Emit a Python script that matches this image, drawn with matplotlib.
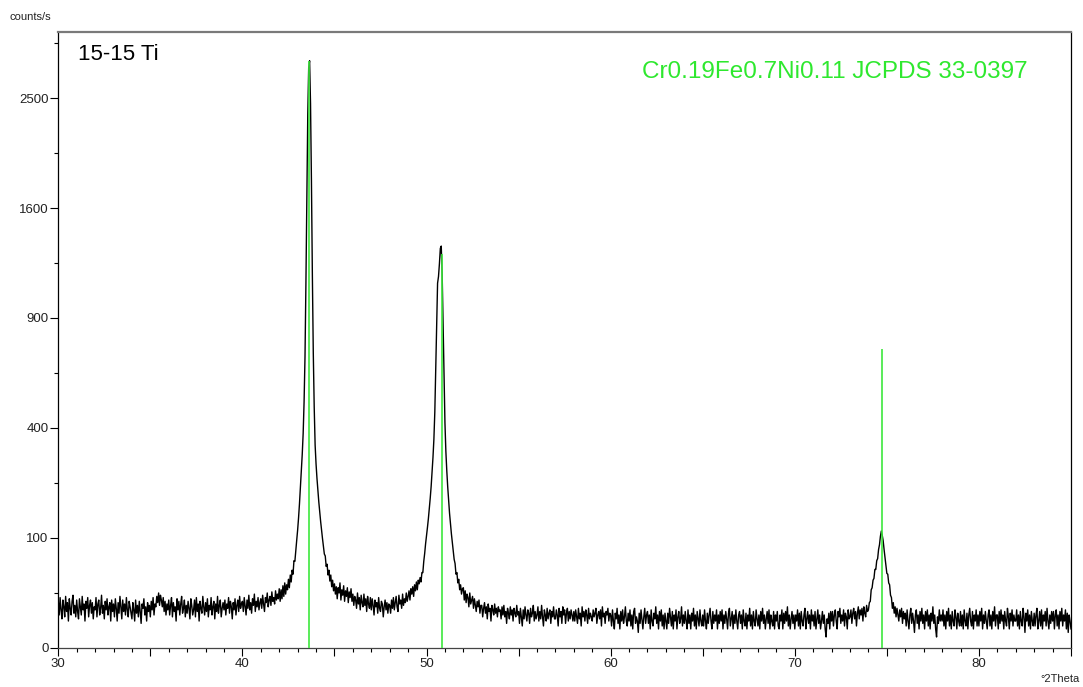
import numpy as np
import matplotlib
matplotlib.use("Agg")
import matplotlib.pyplot as plt
from matplotlib.ticker import FixedLocator, MultipleLocator, FuncFormatter

plt.rcParams['font.family'] = ['Liberation Sans', 'DejaVu Sans']

# scan: 30-85 deg 2theta, step 0.05, one row of counts per degree
scan_start = 30.0
scan_step = 0.05
counts_by_degree = [
    [18, 9, 21, 12, 7, 19, 14, 8, 22, 11, 17, 6, 20, 13, 9, 18, 23, 10, 15, 8],  # 30
    [19, 11, 7, 20, 14, 9, 22, 12, 16, 6, 18, 13, 21, 8, 15, 19, 10, 17, 7, 14],  # 31
    [12, 21, 8, 16, 19, 9, 13, 23, 10, 15, 7, 18, 12, 20, 9, 14, 17, 6, 19, 11],  # 32
    [16, 8, 20, 13, 6, 17, 10, 22, 14, 7, 19, 11, 16, 9, 21, 12, 8, 18, 14, 10],  # 33
    [7, 17, 12, 6, 19, 10, 15, 8, 18, 11, 5, 16, 13, 20, 9, 14, 6, 17, 11, 15],  # 34
    [8, 18, 12, 21, 9, 16, 14, 22, 17, 25, 15, 23, 19, 14, 21, 11, 18, 9, 16, 12],  # 35
    [19, 9, 15, 21, 8, 17, 11, 14, 6, 20, 12, 18, 9, 16, 22, 10, 13, 19, 8, 15],  # 36
    [10, 18, 13, 7, 20, 15, 9, 12, 19, 8, 21, 11, 16, 6, 18, 13, 10, 22, 14, 9],  # 37
    [17, 11, 20, 8, 15, 12, 21, 9, 14, 18, 7, 16, 11, 22, 10, 15, 19, 8, 13, 17],  # 38
    [12, 19, 9, 16, 13, 21, 10, 18, 14, 7, 17, 12, 20, 9, 15, 19, 11, 22, 13, 16],  # 39
    [18, 11, 21, 14, 9, 19, 13, 23, 12, 17, 10, 20, 15, 24, 11, 18, 14, 21, 12, 17],  # 40
    [20, 13, 23, 16, 11, 21, 17, 25, 14, 19, 22, 15, 26, 18, 21, 16, 27, 19, 24, 20],  # 41
    [29, 18, 28, 20, 32, 22, 35, 24, 33, 28, 39, 30, 44, 36, 50, 45, 63, 62, 79, 96],  # 42
    [115, 140, 172, 212, 255, 310, 380, 500, 700, 1100, 1700, 2350, 2780, 2850, 2450,
     1800, 1150, 720, 480, 340],  # 43  (111)
    [280, 238, 205, 176, 152, 132, 114, 99, 86, 73, 70, 55, 58, 44, 50, 37, 44, 31, 38, 27],  # 44
    [34, 24, 31, 20, 30, 25, 35, 19, 28, 23, 32, 18, 27, 22, 30, 17, 26, 21, 29, 18],  # 45
    [24, 15, 22, 19, 13, 25, 16, 21, 12, 23, 17, 14, 24, 15, 20, 11, 22, 16, 13, 21],  # 46
    [12, 20, 15, 9, 19, 14, 17, 10, 21, 13, 11, 18, 16, 8, 14, 19, 12, 17, 10, 16],  # 47
    [15, 10, 19, 13, 21, 12, 17, 22, 14, 11, 23, 16, 19, 13, 24, 15, 20, 17, 25, 18],  # 48
    [22, 27, 19, 29, 24, 31, 22, 33, 27, 36, 28, 38, 34, 41, 36, 47, 47, 62, 74, 90],  # 49
    [104, 120, 138, 160, 185, 215, 255, 300, 360, 460, 640, 850, 1100, 1140, 1220,
     1320, 1335, 1150, 870, 610],  # 50  (200)
    [420, 320, 260, 215, 180, 150, 128, 108, 92, 78, 65, 59, 45, 47, 35, 39, 28, 33, 24, 29],  # 51
    [30, 19, 27, 17, 24, 21, 14, 25, 16, 19, 22, 13, 20, 15, 11, 18, 14, 19, 10, 15],  # 52
    [15, 8, 13, 17, 10, 14, 7, 16, 11, 13, 6, 15, 12, 9, 16, 10, 13, 8, 14, 11],  # 53
    [12, 7, 14, 9, 15, 8, 11, 5, 13, 10, 7, 14, 9, 12, 6, 13, 10, 8, 15, 9],  # 54
    [11, 5, 13, 8, 4, 12, 7, 14, 9, 6, 12, 10, 5, 13, 8, 10, 15, 6, 11, 7],  # 55
    [9, 14, 6, 11, 7, 15, 8, 4, 12, 9, 6, 13, 7, 10, 12, 5, 11, 8, 14, 7],  # 56
    [7, 12, 9, 4, 13, 8, 11, 5, 14, 9, 12, 5, 10, 13, 6, 11, 7, 12, 9, 6],  # 57
    [11, 6, 12, 8, 5, 13, 7, 10, 4, 14, 8, 11, 6, 12, 9, 5, 13, 7, 10, 8],  # 58
    [6, 12, 8, 10, 13, 5, 9, 11, 7, 12, 4, 14, 8, 10, 5, 11, 9, 13, 6, 10],  # 59
    [9, 4, 12, 6, 3, 10, 7, 13, 5, 9, 3, 11, 6, 12, 5, 8, 14, 6, 4, 10],  # 60
    [6, 12, 4, 9, 3, 11, 13, 5, 8, 6, 2, 10, 5, 12, 7, 3, 8, 13, 5, 9],  # 61
    [11, 5, 9, 3, 12, 6, 4, 10, 7, 14, 5, 9, 3, 11, 6, 12, 4, 9, 3, 10],  # 62
    [6, 3, 10, 5, 13, 8, 4, 11, 3, 9, 6, 12, 3, 8, 11, 5, 7, 14, 4, 9],  # 63
    [5, 11, 6, 3, 12, 5, 9, 3, 10, 6, 13, 4, 9, 3, 11, 7, 4, 12, 6, 4],  # 64
    [9, 4, 12, 6, 3, 10, 5, 9, 13, 6, 3, 11, 5, 9, 6, 12, 3, 9, 5, 11],  # 65
    [6, 12, 3, 9, 5, 11, 7, 3, 10, 13, 4, 7, 11, 3, 9, 5, 12, 6, 3, 9],  # 66
    [11, 5, 9, 3, 12, 6, 4, 10, 3, 9, 6, 13, 4, 9, 3, 11, 6, 4, 12, 7],  # 67
    [4, 9, 3, 11, 6, 13, 5, 9, 3, 7, 11, 5, 12, 3, 9, 6, 4, 11, 3, 9],  # 68
    [6, 11, 4, 3, 9, 6, 12, 3, 10, 5, 11, 6, 14, 4, 9, 3, 7, 11, 5, 9],  # 69
    [3, 9, 6, 12, 4, 10, 3, 11, 6, 4, 9, 13, 3, 7, 11, 5, 9, 3, 12, 6],  # 70
    [9, 4, 11, 3, 7, 12, 5, 9, 3, 6, 11, 5, 9, 3, 1, 7, 5, 10, 3, 11],  # 71
    [6, 11, 4, 9, 12, 6, 3, 11, 8, 13, 5, 9, 6, 12, 4, 10, 8, 3, 12, 7],  # 72
    [8, 12, 5, 10, 13, 7, 11, 4, 10, 14, 7, 12, 9, 13, 6, 14, 10, 8, 15, 11],  # 73
    [12, 17, 18, 28, 30, 38, 40, 51, 51, 63, 66, 80, 88, 103, 113, 105, 95, 80, 68, 57],  # 74  (220)
    [46, 45, 35, 33, 23, 21, 13, 17, 10, 14, 8, 13, 9, 6, 12, 8, 13, 5, 11, 7],  # 75
    [10, 4, 12, 6, 3, 9, 13, 5, 10, 6, 2, 9, 12, 5, 9, 3, 11, 6, 13, 5],  # 76
    [9, 3, 11, 6, 12, 4, 9, 3, 10, 6, 14, 5, 9, 3, 1, 8, 5, 12, 6, 9],  # 77
    [6, 12, 4, 9, 3, 11, 6, 13, 4, 9, 3, 11, 6, 4, 12, 8, 3, 10, 6, 4],  # 78
    [11, 4, 9, 3, 12, 6, 4, 10, 3, 9, 13, 6, 4, 11, 3, 9, 6, 12, 4, 9],  # 79
    [4, 11, 6, 13, 3, 9, 5, 11, 6, 3, 9, 12, 4, 9, 3, 11, 6, 14, 4, 9],  # 80
    [9, 3, 11, 5, 12, 6, 9, 3, 11, 6, 4, 13, 8, 3, 10, 6, 12, 4, 9, 6],  # 81
    [6, 12, 4, 9, 3, 11, 6, 4, 13, 8, 2, 10, 6, 12, 4, 9, 3, 11, 6, 4],  # 82
    [10, 4, 9, 13, 3, 6, 11, 4, 12, 3, 9, 6, 11, 4, 13, 6, 3, 9, 5, 11],  # 83
    [6, 11, 3, 9, 12, 4, 9, 3, 11, 6, 13, 4, 9, 6, 12, 3, 10, 2, 9, 6],  # 84
    [3],  # 85
]

# JCPDS 33-0397 (Cr0.19Fe0.7Ni0.11) stick pattern
ref_positions = [43.63, 50.82, 74.72]
ref_rel_intensity = [100, 45, 26]
ref_scale = 2850

two_theta = []
counts = []
for i, row in enumerate(counts_by_degree):
    for j, c in enumerate(row):
        two_theta.append(scan_start + i + j * scan_step)
        counts.append(c)
two_theta = np.array(two_theta)
counts = np.array(counts)

fig = plt.figure(figsize=(10.83, 6.87), dpi=100)
ax = fig.add_axes([0.0538, 0.0568, 0.9351, 0.8966])

ax.plot(two_theta, counts, color='black', lw=1.0, zorder=2)
ref_heights = [r / 100 * ref_scale for r in ref_rel_intensity]
ax.vlines(ref_positions, 0, ref_heights, color='#3de83d', lw=1.2, zorder=3)

# square-root intensity axis
ax.set_yscale('function', functions=(lambda y: np.sqrt(np.clip(y, 0, None)),
                                     lambda y: np.square(y)))
ax.set_ylim(0, 3136)
ax.set_xlim(30, 85)

ax.yaxis.set_major_locator(FixedLocator([0, 100, 400, 900, 1600, 2500]))
ax.yaxis.set_minor_locator(FixedLocator([25, 225, 625, 1225, 2025, 3025]))
ax.xaxis.set_major_locator(MultipleLocator(5))
ax.xaxis.set_minor_locator(MultipleLocator(1))
ax.xaxis.set_major_formatter(FuncFormatter(lambda v, p: f"{v:.0f}" if v % 10 == 0 else ""))

ax.tick_params(axis='both', which='major', direction='out', length=5.5, width=0.8,
               labelsize=9.5, colors='black', labelcolor='#222222', pad=1.5)
ax.tick_params(axis='both', which='minor', direction='out', length=3, width=0.8)

for side in ['left', 'bottom', 'right']:
    ax.spines[side].set_color('black')
    ax.spines[side].set_linewidth(0.9)
ax.spines['bottom'].set_color('#444444')
ax.spines['top'].set_color('#7a7a7a')
ax.spines['top'].set_linewidth(1.6)

ax.text(0.0195, 0.963, "15-15 Ti", transform=ax.transAxes, fontsize=16,
        ha='left', va='center', color='black')
ax.text(0.576, 0.935, "Cr0.19Fe0.7Ni0.11 JCPDS 33-0397", transform=ax.transAxes,
        fontsize=17.5, ha='left', va='center', color='#2ee82e')

fig.text(10 / 1083, 1 - 17 / 687, "counts/s", fontsize=8, ha='left', va='center',
         color='#222222')
fig.text(1080 / 1083, 1 - 679 / 687, "°2Theta", fontsize=8, ha='right', va='center',
         color='#222222')

fig.savefig("out.png", dpi=100)
